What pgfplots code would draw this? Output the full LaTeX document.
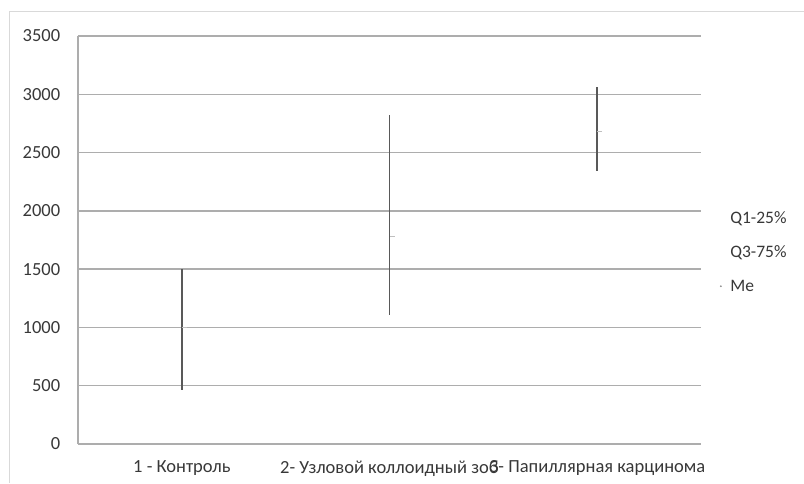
\documentclass[border=0pt]{standalone}
\usepackage{pgfplots}
\pgfplotsset{compat=1.18}
\usepackage{pgfplotstable}
\usepackage{fontspec}
\setmainfont{Carlito}

\pgfplotstableread{
x q1 q3 me
0 460 1500 1000
1 1110 2820 1777
2 2340 3060 2683
}\datatable

\begin{document}
\begin{tikzpicture}
\path[use as bounding box] (-78pt,-39pt) rectangle (726pt,444pt);
\draw[black!15, line width=1pt] (-68pt,-39pt) -- (-68pt,432pt) -- (726pt,432pt);
\begin{axis}[
  at={(0pt,0pt)}, anchor=south west,
  scale only axis, width=623pt, height=408pt,
  xmin=-0.5, xmax=2.5, ymin=0, ymax=3500,
  ytick={0,500,...,3500},
  xtick={0,1,2},
  xticklabels={1 - Контроль, 2- Узловой коллоидный зоб, 3- Папиллярная карцинома},
  major x tick style={draw=none},
  major y tick style={draw=none},
  extra x ticks={-0.5,0.5,1.5,2.5},
  extra x tick labels={},
  extra x tick style={major tick length=4pt, tick style={draw=black!35, line width=1pt}, xmajorgrids=false},
  tick align=outside,
  ymajorgrids,
  grid style={black!32, line width=1.4pt},
  axis x line*=bottom, axis y line*=left,
  axis line style={black!32, line width=1.2pt, -},
  /pgf/number format/assume math mode=true,
  /pgf/number format/set thousands separator={},
  tick label style={font=\fontsize{18.5}{22}\selectfont, text=black!78},
  yticklabel style={xshift=-10pt},
  xticklabel style={yshift=-9pt},
  legend style={draw=none, fill=none, at={(1,0.47)}, anchor=west, xshift=18pt,
    font=\fontsize{17.5}{21}\selectfont, text=black!78, row sep=16.5pt, inner sep=0pt},
  legend cell align=left,
]
\addplot[draw=none, mark=none, legend image code/.code={\path[draw=none] (0,0) rectangle (0.32cm,0);}] table[x=x, y=q1] {\datatable};
\addlegendentry{Q1-25\%}
\addplot[draw=none, mark=none, legend image code/.code={\path[draw=none] (0,0) rectangle (0.32cm,0);}] table[x=x, y=q3] {\datatable};
\addlegendentry{Q3-75\%}
\addplot[forget plot, draw=none, mark=none,
  error bars/.cd, y dir=both, y explicit,
  error bar style={black!65, line width=1.7pt}, error mark=none]
  table[x=x, y=me, y error plus expr=\thisrow{q3}-\thisrow{me}, y error minus expr=\thisrow{me}-\thisrow{q1}] {\datatable};
\addplot[only marks, mark=-, mark size=2.5pt, mark options={draw=black!25, line width=1.2pt, xshift=2.5pt},
  legend image code/.code={\path[draw=none,fill=none] (0,0) rectangle (0.32cm,0); \fill[black!45,draw=none] (0.06cm,0) circle (1pt);}]
  table[x=x, y=me] {\datatable};
\addlegendentry{Me}
\end{axis}
\end{tikzpicture}
\end{document}
